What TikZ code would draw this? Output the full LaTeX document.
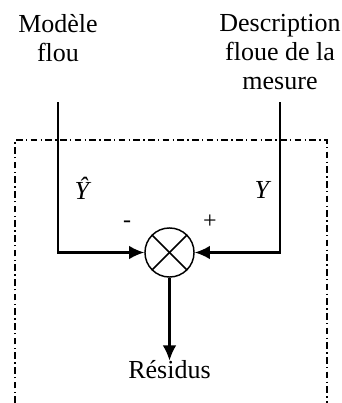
\documentclass[tikz,border=0pt]{standalone}
\usepackage{fontspec}
\setmainfont{Liberation Serif}
\usetikzlibrary{arrows.meta, positioning, calc}
\tikzset{
  label/.style  = {align=center, font=\fontsize{19.5}{21.8}\selectfont, inner sep=0pt},
  sign/.style   = {font=\fontsize{18}{20}\selectfont, inner sep=0pt},
  sumnode/.style = {draw, circle, line width=1.1pt, minimum size=36.8pt, inner sep=0pt},
  flow/.style   = {-{Latex[length=4mm, width=3.6mm]}, line width=1.6pt},
  frame/.style  = {line width=0.9pt, dash pattern=on 5pt off 2.5pt on 1pt off 2.5pt}
}
\begin{document}
\begin{tikzpicture}[x=0.75pt, y=-0.75pt]
\useasboundingbox (0,0) rectangle (342,403);
% frame, open at the bottom
\draw[frame] (15,403) -- (15,140) -- (327,140) -- (327,403);
\node[label] (modele) at (58,38) {Modèle\\flou};
\node[label] (descr) at (280,52) {Description\\floue de la\\mesure};
\coordinate (yhatin) at (58,102);
\coordinate (yin) at (280,102);
\node[sumnode] (sum) at (169.5,252.5) {};
\draw[line width=1.1pt] (sum.north west) -- (sum.south east);
\draw[line width=1.1pt] (sum.north east) -- (sum.south west);
\node[label] (yhat) at (83,188) {\textit{Ŷ}};
\node[label] (y) at (263,190) {\textit{Y}};
\node[sign] (minus) at (127,224) {-};
\node[sign] (plus) at (210,222) {+};
\node[label] (res) at (169.5,370) {Résidus};
\draw[flow] (yhatin) |- (sum.west);
\draw[flow] (yin) |- (sum.east);
\draw[flow] (sum.south) -- (res.north);
\end{tikzpicture}
\end{document}
